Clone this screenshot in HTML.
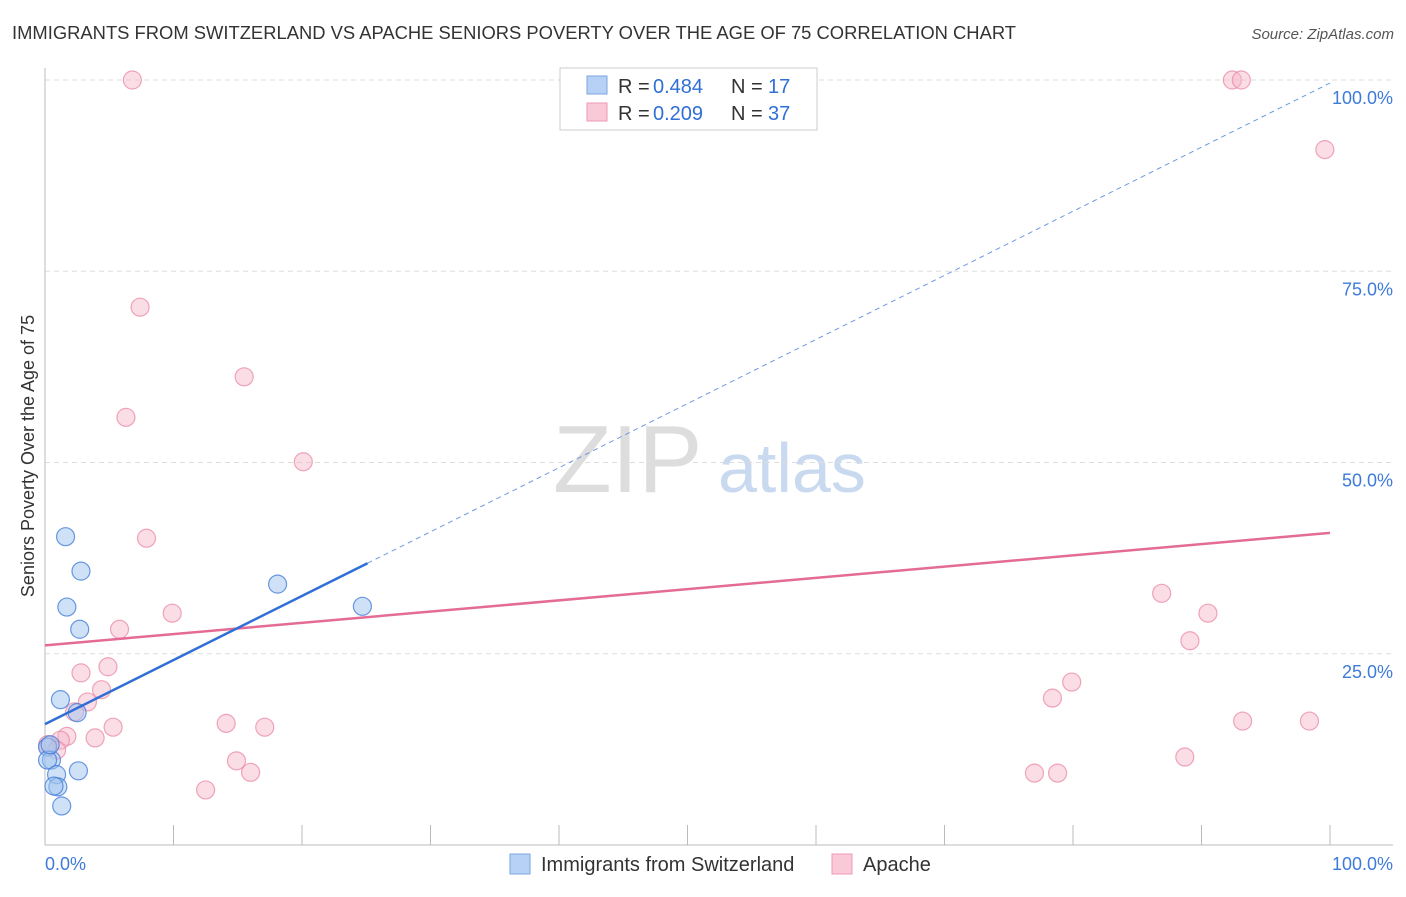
<!DOCTYPE html>
<html><head><meta charset="utf-8"><style>
body{margin:0;background:#fff;font-family:"Liberation Sans",sans-serif}
svg text{font-family:"Liberation Sans",sans-serif}
</style></head><body>
<svg id="c" width="1406" height="892">
<text x="12" y="39" font-size="18" fill="#333" textLength="1004" lengthAdjust="spacingAndGlyphs">IMMIGRANTS FROM SWITZERLAND VS APACHE SENIORS POVERTY OVER THE AGE OF 75 CORRELATION CHART</text>
<text x="1394" y="39" font-size="15" fill="#555" font-style="italic" text-anchor="end">Source: ZipAtlas.com</text>
<text x="34" y="456" font-size="18" fill="#333" text-anchor="middle" transform="rotate(-90 34 456)">Seniors Poverty Over the Age of 75</text>
<text x="553" y="492" font-size="96" fill="#ddd" font-family="Liberation Serif">ZIP</text>
<text x="718" y="492" font-size="70" fill="#c9d9ef">atlas</text>
<g id="grid"></g><g id="marks"></g>
<g>
<rect x="560" y="68" width="257" height="62" fill="#fff" stroke="#ccc"/>
<rect x="587" y="76" width="20" height="18" fill="#b6d1f5" stroke="#7aa6e0"/>
<rect x="587" y="103" width="20" height="18" fill="#f9c9d8" stroke="#ee9ab5"/>
<text x="618" y="93" font-size="20" fill="#333">R =</text>
<text x="653" y="93" font-size="20" fill="#2f6fd6">0.484</text>
<text x="731" y="93" font-size="20" fill="#333">N =</text>
<text x="768" y="93" font-size="20" fill="#2f6fd6">17</text>
<text x="618" y="120" font-size="20" fill="#333">R =</text>
<text x="653" y="120" font-size="20" fill="#2f6fd6">0.209</text>
<text x="731" y="120" font-size="20" fill="#333">N =</text>
<text x="768" y="120" font-size="20" fill="#2f6fd6">37</text>
</g>
<g>
<rect x="510" y="854" width="20" height="20" fill="#b6d1f5" stroke="#7aa6e0"/>
<text x="541" y="871" font-size="20" fill="#333">Immigrants from Switzerland</text>
<rect x="832" y="854" width="20" height="20" fill="#f9c9d8" stroke="#ee9ab5"/>
<text x="863" y="871" font-size="20" fill="#333">Apache</text>
</g>
<text x="45" y="870" font-size="18" fill="#3d7bd9">0.0%</text>
<text x="1393" y="870" font-size="18" fill="#3d7bd9" text-anchor="end">100.0%</text>
</svg>
<script>
const yTicks=[25,50,75,100];
const yTickLabels=["25.0%","50.0%","75.0%","100.0%"];
const blueX=[1.6,2.8,1.7,2.7,1.2,2.5,0.2,0.5,0.2,0.9,1.0,0.7,2.6,1.3,18.1,24.7,0.4];
const blueY=[40.3,35.8,31.1,28.2,19.0,17.3,12.8,11.1,11.1,9.2,7.6,7.7,9.7,5.1,34.1,31.2,13.1];
const pinkX=[6.8,7.4,15.5,6.3,20.1,7.9,9.9,5.8,2.8,4.9,4.4,3.3,2.3,5.3,3.9,1.7,1.2,0.9,0.2,14.1,17.1,14.9,16.0,12.5,86.9,90.5,89.1,79.9,78.4,93.2,98.4,88.7,77.0,78.8,92.4,93.1,99.6];
const pinkY=[100,70.3,61.2,55.9,50.1,40.1,30.3,28.2,22.5,23.3,20.3,18.7,17.4,15.4,14.0,14.2,13.7,12.4,13.1,15.9,15.4,11.0,9.5,7.2,32.9,30.3,26.7,21.3,19.2,16.2,16.2,11.5,9.4,9.4,100,100,90.9];
const blueFit=[15.8,99.6];
const blueSolidEnd=25.1;
const pinkFit=[26.1,40.8];
const NS="http://www.w3.org/2000/svg";
const sx=v=>45+v*12.85, sy=v=>845-v*7.65;
function mk(t,a,p){const e=document.createElementNS(NS,t);for(const k in a)e.setAttribute(k,a[k]);p.appendChild(e);return e;}
const g=document.getElementById('grid'), m=document.getElementById('marks');
yTicks.forEach((t,i)=>{
 const l=mk('line',{x1:45,x2:1393,y1:sy(t),y2:sy(t),stroke:'#ddd','stroke-dasharray':'5,4'},g);
 
 
 const tx=mk('text',{x:1393,y:sy(t)+24,'font-size':18,fill:'#3d7bd9','text-anchor':'end'},g);
 tx.textContent=yTickLabels[i];
 
 
});
mk('line',{x1:45,x2:45,y1:68,y2:845,stroke:'#bbb'},g);
mk('line',{x1:45,x2:1393,y1:845,y2:845,stroke:'#bbb'},g);
for(let i=1;i<=10;i++){const t=mk('line',{x1:sx(i*10),x2:sx(i*10),y1:825,y2:845,stroke:'#bbb'},g);
 
 }
function dots(X,Y,f,s,name){X.forEach((x,i)=>{const c=mk('circle',{cx:sx(x),cy:sy(Y[i]),r:9,fill:f,stroke:s,'stroke-width':1.2},m);
 
 });}
dots(pinkX,pinkY,'rgba(246,180,200,0.45)','rgba(232,130,160,0.7)','apache-point');
dots(blueX,blueY,'rgba(160,195,240,0.5)','rgba(60,120,215,0.75)','switzerland-point');
const pl=mk('line',{x1:sx(0),y1:sy(pinkFit[0]),x2:sx(100),y2:sy(pinkFit[1]),stroke:'#e46b96','stroke-width':2.5},m);


const by=x=>blueFit[0]+(blueFit[1]-blueFit[0])*x/100;
const bl=mk('line',{x1:sx(0),y1:sy(by(0)),x2:sx(blueSolidEnd),y2:sy(by(blueSolidEnd)),stroke:'#2f6fd6','stroke-width':2.5},m);


const bd=mk('line',{x1:sx(blueSolidEnd),y1:sy(by(blueSolidEnd)),x2:sx(100),y2:sy(by(100)),stroke:'#6b9be0','stroke-width':1,'stroke-dasharray':'5,4'},m);


</script>
</body></html>
